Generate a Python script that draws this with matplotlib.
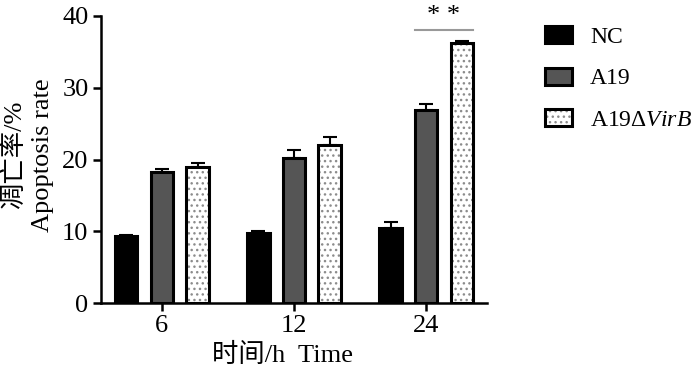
import matplotlib
matplotlib.use('Agg')
import matplotlib.pyplot as plt
import numpy as np

plt.rcParams['font.family'] = ['Liberation Serif', 'Noto Sans CJK SC']
plt.rcParams['mathtext.fontset'] = 'custom'
plt.rcParams['mathtext.rm'] = 'Liberation Serif'
plt.rcParams['mathtext.it'] = 'Liberation Serif:italic'

times = ['6', '12', '24']
series = ['NC', 'A19', r'A19Δ$\it{VirB}$']
nc = [9.3, 9.8, 10.5]
nc_err = [0.15, 0.3, 0.8]
a19 = [18.3, 20.2, 26.9]
a19_err = [0.35, 1.1, 0.9]
virb = [19.0, 22.0, 36.2]
virb_err = [0.45, 1.2, 0.3]

fig = plt.figure(figsize=(7, 3.71), dpi=100)
ax = fig.add_axes([101/700, 1 - 303/371, 386/700, 287/371])

x = np.arange(len(times))
w = 0.17
off = 0.27
faces = ['black', '#555555', 'white']
vals = [nc, a19, virb]
errs = [nc_err, a19_err, virb_err]
for i, (v, e) in enumerate(zip(vals, errs)):
    xs = x + (i - 1) * off
    bars = ax.bar(xs, v, w, color=faces[i], edgecolor='black', linewidth=2.2,
                  hatch='...' if i == 2 else None, label=series[i], zorder=2)
    if i == 2:
        for p in bars.patches:
            p._hatch_color = (0.55, 0.55, 0.55, 1)
    ax.errorbar(xs, v, yerr=[np.zeros(len(v)), e], fmt='none', ecolor='black',
                elinewidth=1.5, capsize=5, capthick=1.5, zorder=1)

# significance marker
x1 = x[2] - w / 2
x2 = x[2] + off + w / 2
ax.plot([x1, x2], [38.0, 38.0], color='#999999', lw=1.5, clip_on=False)
ax.text((x1 + x2) / 2, 38.5, '* *', ha='center', va='bottom', fontsize=19, clip_on=False)

ax.set_xlim(-0.46, 2.46)
ax.set_ylim(0, 40)
ax.set_yticks([0, 10, 20, 30, 40])
ax.set_xticks(x)
ax.set_xticklabels(times)
for s in ['top', 'right']:
    ax.spines[s].set_visible(False)
for s in ['left', 'bottom']:
    ax.spines[s].set_linewidth(1.8)
ax.tick_params(axis='both', labelsize=19, width=1.8, length=6, pad=3)

fig.text(0.5 * (101 + 487) / 700 - 12/700, 1 - 355/371, '时间/h  Time', ha='center', va='center', fontsize=19)
fig.text(28/700, 1 - 155/371, '凋亡率/%\nApoptosis rate', rotation=90, ha='center', va='center',
         multialignment='center', fontsize=19, linespacing=1.35)

leg = ax.legend(loc='upper left', bbox_to_anchor=(545/700, 1 - 26/371), bbox_transform=fig.transFigure,
                frameon=False, fontsize=17, handlelength=1.15, handleheight=0.72, labelspacing=0.85,
                handletextpad=0.75, borderpad=0, borderaxespad=0)
for p in leg.get_patches()[2:]:
    p._hatch_color = (0.55, 0.55, 0.55, 1)

fig.savefig('out.png', dpi=100)
